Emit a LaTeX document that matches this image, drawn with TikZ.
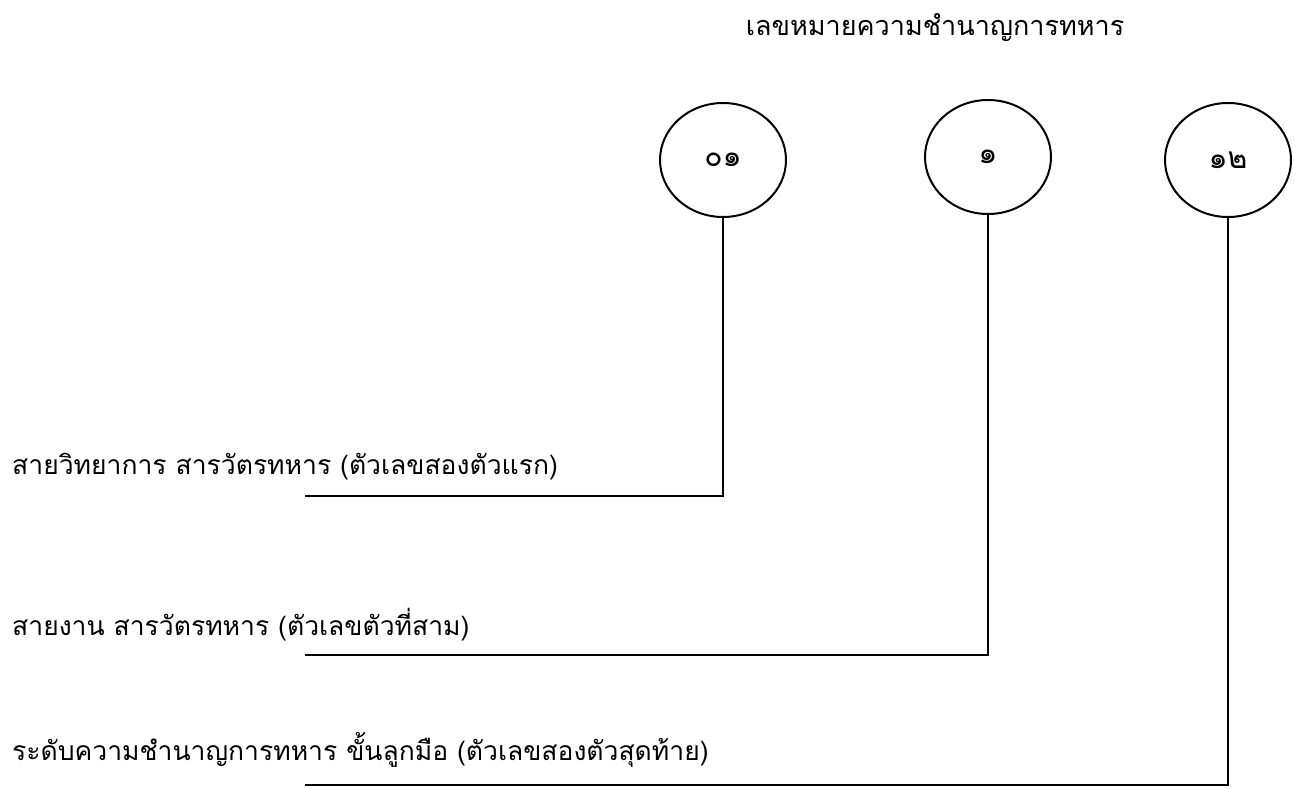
\documentclass[tikz,border=0pt]{standalone}
\usepackage{fontspec}
\usetikzlibrary{shapes.geometric}
\newfontfamily\thaifont[Script=Thai]{Loma}
\begin{document}
\begin{tikzpicture}[x=1pt,y=-1pt,
  numcircle/.style={draw,ellipse,line width=2pt,minimum width=126pt,minimum height=114pt,inner sep=0pt,font=\thaifont\fontsize{30}{34}\selectfont},
  lbl/.style={anchor=west,inner sep=0pt,font=\thaifont\fontsize{26.5}{30}\selectfont},
  conn/.style={line width=1.2pt}]
\useasboundingbox (0,0) rectangle (1307,789);
\node[anchor=center,inner sep=0pt,font=\thaifont\fontsize{27}{30}\selectfont] (title) at (935,28) {เลขหมายความชำนาญการทหาร};
\node[numcircle] (c1) at (723,160) {๐๑};
\node[numcircle] (c2) at (988,157) {๑};
\node[numcircle] (c3) at (1228,160) {๑๒};
\node[lbl] (l1) at (12,467) {สายวิทยาการ สารวัตรทหาร (ตัวเลขสองตัวแรก)};
\node[lbl] (l2) at (12,625) {สายงาน สารวัตรทหาร (ตัวเลขตัวที่สาม)};
\node[lbl] (l3) at (12,750) {ระดับความชำนาญการทหาร ขั้นลูกมือ (ตัวเลขสองตัวสุดท้าย)};
\coordinate (e1) at (305,496);
\coordinate (e2) at (305,655);
\coordinate (e3) at (305,785);
\draw[conn] (c1.south) |- (e1);
\draw[conn] (c2.south) |- (e2);
\draw[conn] (c3.south) |- (e3);
\end{tikzpicture}
\end{document}
